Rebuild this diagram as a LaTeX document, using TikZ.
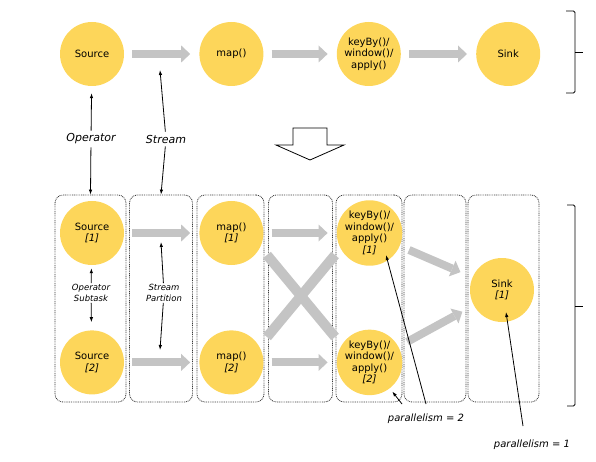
\documentclass[tikz,border=0pt]{standalone}
\usepackage{fontspec}
\setmainfont{DejaVu Sans}
\usetikzlibrary{arrows.meta,positioning}
\definecolor{opfill}{HTML}{FDD65A}
\definecolor{flowgray}{HTML}{C4C4C4}
\definecolor{lanegray}{HTML}{3A3A3A}
\tikzset{
  op/.style={circle, fill=opfill, minimum size=64pt, inner sep=0pt, align=center,
    font=\fontsize{10}{11.5}\selectfont},
  lane/.style={draw=lanegray, line width=0.8pt, dash pattern=on 0.9pt off 0.9pt,
    rounded corners=8pt, minimum height=207pt, inner sep=0pt},
  flow/.style={draw=flowgray, line width=8pt,
    -{Triangle[length=9pt, width=17pt, line width=0pt]}},
  cross/.style={draw=flowgray, line width=10pt},
  ptr/.style={-{Latex[length=5pt, width=3.5pt]}, line width=0.8pt},
  lbl/.style={font=\fontsize{11}{13}\selectfont\itshape, inner sep=3pt},
  sublbl/.style={font=\fontsize{8.5}{11}\selectfont\itshape, align=center, inner sep=1pt},
  brace/.style={line width=0.8pt, rounded corners=1.5pt},
}

\begin{document}
\begin{tikzpicture}[x=1pt, y=-1pt, node distance=65pt and 75pt]
    \useasboundingbox (0,0) rectangle (596,462);
    \foreach \n/\x/\w in {1/90.5/71, 2/161/63, 3/230.5/67, 4/300.5/64, 5/369/66, 6/435/62, 7/503.5/71}
      \node[lane, minimum width=\w pt] (ln\n) at (\x,298.5) {};
    \node[op] (src) at (92,54) {Source};
    \node[op, right=of src] (map) {map()};
    \node[op, right=73pt of map] (key) {keyBy()/\\window()/\\apply()};
    \node[op, right=of key] (snk) {Sink};
    \foreach \x/\y in {src/map, map/key, key/snk} \draw[flow, shorten <=8pt, shorten >=9pt] (\x) -- (\y);
    \draw[brace] (566,11) -- (575,11) -- (575,93) -- (566,93);
    \draw[brace] (575,52) -- (583,52);
    \node[lbl] (opl) at (91,139) {Operator};
    \node[lbl] (stl) at (166,139) {Stream};
    \coordinate (sttip) at (160,70);
    \draw[ptr, shorten >=7pt] (opl) -- (src);
    \draw[ptr] (opl) -- (ln1.north);
    \draw[ptr] (stl) -- (sttip);
    \draw[ptr] (stl) -- (ln2.north);
    \draw[line width=0.8pt, fill=white] (293,128) -- (327,128) -- (327,145) -- (344,145) -- (310,160)
      -- (276,145) -- (293,145) -- cycle;
    \node[op] (src1) at (92,233) {Source\\\textit{[1]}};
    \node[op, below=of src1] (src2) {Source\\\textit{[2]}};
    \node[op, right=of src1] (map1) {map()\\\textit{[1]}};
    \node[op, right=of src2] (map2) {map()\\\textit{[2]}};
    \node[op, right=73pt of map1] (key1) {keyBy()/\\window()/\\apply()\\\textit{[1]}};
    \node[op, right=73pt of map2] (key2) {keyBy()/\\window()/\\apply()\\\textit{[2]}};
    \node[op] (snk1) at (502,290) {Sink\\\textit{[1]}};
    \foreach \x/\y in {src1/map1, src2/map2, map1/key1, map2/key2} \draw[flow, shorten <=8pt, shorten >=9pt] (\x) -- (\y);
    \foreach \x in {key1, key2} \draw[flow, shorten <=10pt, shorten >=13pt] (\x) -- (snk1);
    \coordinate (xa) at (267,255);
    \coordinate (xb) at (335,337);
    \coordinate (xc) at (267,337);
    \coordinate (xd) at (335,255);
    \draw[cross] (xa) -- (xb);
    \draw[cross] (xc) -- (xd);
    \node[sublbl] (osl) at (91,293) {Operator\\Subtask};
    \draw[ptr, shorten >=3pt] (osl) -- (src1);
    \draw[ptr, shorten >=8pt] (osl) -- (src2);
    \node[sublbl] (spl) at (164,293) {Stream\\Partition};
    \coordinate (spa) at (161,242);
    \coordinate (spb) at (160,350);
    \draw[ptr] (spl) -- (spa);
    \draw[ptr] (spl) -- (spb);
    \node[lbl, font=\fontsize{10}{12}\selectfont\itshape] (par2) at (426,419) {parallelism = 2};
    \node[lbl, font=\fontsize{10}{12}\selectfont\itshape] (par1) at (532,445) {parallelism = 1};
    \coordinate (p2s) at (426,404);
    \coordinate (p2t) at (386,255);
    \coordinate (p2b) at (402,404);
    \coordinate (p1s) at (523,426);
    \coordinate (p1t) at (506,312);
    \draw[ptr] (p2s) -- (p2t);
    \draw[ptr, shorten >=4pt] (p2b) -- (key2);
    \draw[ptr] (p1s) -- (p1t);
    \draw[brace] (567,205) -- (575,205) -- (575,406) -- (567,406);
    \draw[brace] (575,306) -- (583,306);
  \end{tikzpicture}
\end{document}
